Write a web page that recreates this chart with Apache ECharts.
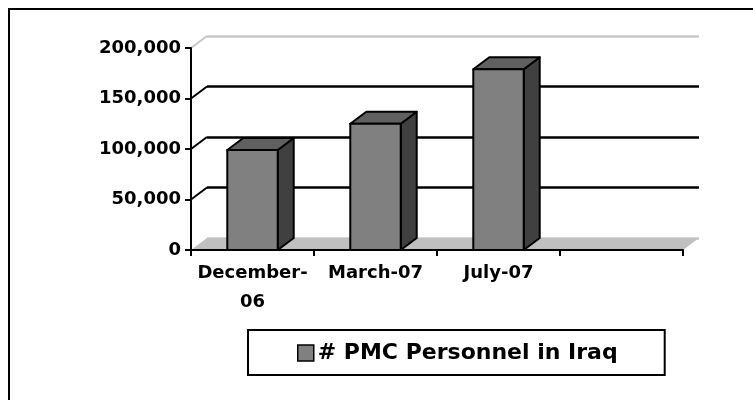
<!DOCTYPE html>
<html>
<head>
<meta charset="utf-8">
<script src="https://cdn.jsdelivr.net/npm/echarts@6/dist/echarts.min.js"></script>
<style>
  html, body { margin: 0; padding: 0; background: #fff; }
  #main { width: 753px; height: 400px; }
</style>
</head>
<body>
<div id="main"></div>
<script>
// data
var categories = ["December-06", "March-07", "July-07", ""];
var personnel = [99000, 125000, 179000];
var yTicks = [0, 50000, 100000, 150000, 200000];
var seriesName = "# PMC Personnel in Iraq";

var DX = 16, DY = -12; // depth of the fake 3d
var font = "DejaVu Sans";

function fmt(v) {
  return String(v).replace(/\B(?=(\d{3})+(?!\d))/g, ",");
}

var myChart = echarts.init(document.getElementById("main"));

// bars: front face, side, top
function renderBar(params, api) {
  var cx = api.coord([api.value(0), 0])[0];
  var b = api.coord([api.value(0), 0])[1];
  var t = api.coord([api.value(0), api.value(1)])[1];
  var bw = api.size([1, 0])[0] * 0.41;
  var l = cx - bw / 2, r = cx + bw / 2;
  var st = function (c) {
    return { fill: c, stroke: "#000", lineWidth: 2, lineJoin: "round" };
  };
  return {
    type: "group",
    children: [
      { type: "polygon", shape: { points: [[r, b], [r + DX, b + DY], [r + DX, t + DY], [r, t]] }, style: st("#404040") },
      { type: "polygon", shape: { points: [[l, t], [r, t], [r + DX, t + DY], [l + DX, t + DY]] }, style: st("#606060") },
      { type: "polygon", shape: { points: [[l, b], [r, b], [r, t], [l, t]] }, style: st("#808080") }
    ]
  };
}

// floor of the plot
function renderFloor(params, api) {
  var cs = params.coordSys;
  var b = cs.y + cs.height;
  return {
    type: "polygon",
    shape: { points: [[cs.x, b], [cs.x + cs.width, b], [cs.x + cs.width + DX, b + DY], [cs.x + DX, b + DY]] },
    style: { fill: "#c0c0c0", stroke: null }
  };
}

// side wall gridlines, from front axis to back wall
function renderSide(params, api) {
  var cs = params.coordSys;
  var y = api.coord([0, api.value(1)])[1];
  var top = api.value(1) >= 200000;
  return {
    type: "line",
    shape: { x1: cs.x, y1: y, x2: cs.x + DX, y2: y + DY },
    style: { stroke: top ? "#c8c8c8" : "#000", lineWidth: 2 }
  };
}

myChart.setOption({
  animation: false,
  backgroundColor: "#fff",
  graphic: [
    {
      type: "rect",
      shape: { x: 9, y: 9, width: 780, height: 440 },
      style: { fill: null, stroke: "#000", lineWidth: 2 },
      silent: true
    }
  ],
  legend: {
    left: 248,
    top: 330,
    padding: [12, 47, 11, 49],
    borderColor: "#000",
    borderWidth: 2,
    icon: "rect",
    itemWidth: 16,
    itemHeight: 16,
    itemGap: 6,
    itemStyle: { color: "#808080", borderColor: "#000", borderWidth: 1.5 },
    textStyle: { fontFamily: font, fontWeight: "bold", fontSize: 22, color: "#000", padding: [0, 0, 0, -1] },
    data: [seriesName]
  },
  grid: [
    { left: 191, top: 48, width: 492, height: 202 },
    { left: 191 + DX, top: 48 + DY, width: 492, height: 202 }
  ],
  xAxis: [
    {
      type: "category",
      gridIndex: 0,
      data: categories,
      z: 10,
      axisLine: { lineStyle: { color: "#000", width: 2 } },
      axisTick: { show: true, interval: 0, length: 6, lineStyle: { color: "#000", width: 2 } },
      axisLabel: {
        interval: 0,
        color: "#000",
        fontFamily: font,
        fontWeight: "bold",
        fontSize: 18,
        lineHeight: 29,
        margin: 9,
        formatter: function (v) { return v.replace("December-", "December-\n"); }
      }
    },
    { type: "category", gridIndex: 1, data: categories, show: false }
  ],
  yAxis: [
    {
      type: "value",
      gridIndex: 0,
      min: 0,
      max: 200000,
      interval: 50000,
      z: 10,
      axisLine: { show: true, lineStyle: { color: "#000", width: 2 } },
      axisTick: { show: true, length: 6, lineStyle: { color: "#000", width: 2 } },
      splitLine: { show: false },
      axisLabel: {
        color: "#000",
        fontFamily: font,
        fontWeight: "bold",
        fontSize: 18,
        margin: 10,
        formatter: fmt
      }
    },
    {
      type: "value",
      gridIndex: 1,
      min: 0,
      max: 200000,
      interval: 50000,
      axisLine: { show: false },
      axisTick: { show: false },
      axisLabel: { show: false },
      splitLine: {
        show: true,
        lineStyle: { color: ["#c8c8c8", "#000", "#000", "#000", "#c8c8c8"], width: 2.5 }
      }
    }
  ],
  series: [
    {
      type: "custom",
      name: "floor",
      xAxisIndex: 0,
      yAxisIndex: 0,
      silent: true,
      z: 1,
      renderItem: renderFloor,
      data: [[0, 0]]
    },
    {
      type: "custom",
      name: "side",
      xAxisIndex: 0,
      yAxisIndex: 0,
      silent: true,
      z: 1,
      renderItem: renderSide,
      data: yTicks.slice(1).map(function (v) { return [0, v]; })
    },
    {
      type: "custom",
      name: seriesName,
      xAxisIndex: 0,
      yAxisIndex: 0,
      z: 3,
      itemStyle: { color: "#808080" },
      renderItem: renderBar,
      encode: { x: 0, y: 1 },
      data: personnel.map(function (v, i) { return [i, v]; })
    }
  ]
});
</script>
</body>
</html>
